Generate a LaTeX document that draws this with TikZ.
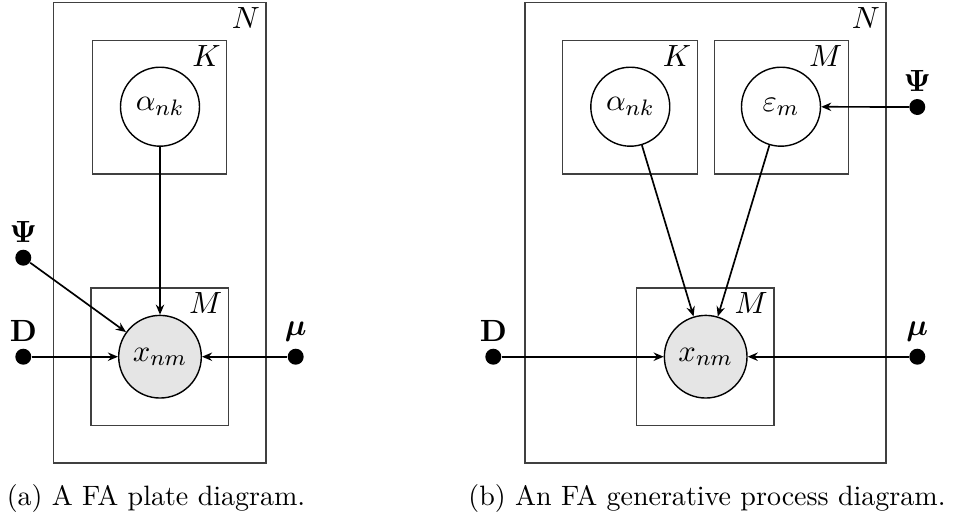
\documentclass[tikz,border=0pt]{standalone}
\usepackage{amsmath}
\usetikzlibrary{arrows.meta,positioning}
\newcommand{\lblsize}{\fontsize{10.95}{13.6}\selectfont}
\begin{document}
\begin{tikzpicture}[x=0.357pt,y=-0.357pt,
  plate/.style={draw=black!75, line width=0.45pt},
  platelabel/.style={anchor=north east, inner xsep=2.0pt, inner ysep=1.5pt, font=\lblsize},
  latent/.style={circle, draw, line width=0.5pt, minimum size=28.2pt, inner sep=0pt, font=\lblsize},
  obs/.style={latent, fill=black!10, minimum size=29.5pt},
  dotnode/.style={circle, fill=black, minimum size=5.7pt, inner sep=0pt},
  dotlabel/.style={font=\lblsize, inner sep=2.2pt},
  edge/.style={-{Stealth[length=3.6pt,width=3pt,inset=1.2pt]}, line width=0.6pt},
  caption/.style={anchor=base, inner sep=0pt}]
\useasboundingbox (0,0) rectangle (955,515);
% ---------- (a) ----------
\draw[plate] (53.3,2.3) rectangle (266,463);
\node[platelabel] (aN) at (266,2.3) {$N$};
\draw[plate] (92.7,40.3) rectangle (226.7,174);
\node[platelabel] (aK) at (226.7,40.3) {$K$};
\draw[plate] (91,288) rectangle (228.3,425.3);
\node[platelabel] (aM) at (228.3,288) {$M$};
\node[latent] (aalpha) at (160,106.7) {$\alpha_{nk}$};
\node[obs] (ax) at (160,356.7) {$x_{nm}$};
\node[dotnode] (aPsi) at (23.3,257.7) {};
\node[dotlabel, above=0pt of aPsi] (aPsiL) {$\boldsymbol{\Psi}$};
\node[dotnode] (aD) at (23.3,356.7) {};
\node[dotlabel, above=0pt of aD] (aDL) {$\mathbf{D}$};
\node[dotnode] (amu) at (295.7,356.7) {};
\node[dotlabel, above=0pt of amu] (amuL) {$\boldsymbol{\mu}$};
\draw[edge] (aalpha) -- (ax);
\draw[edge] (aPsi) -- (ax);
\draw[edge] (aD) -- (ax);
\draw[edge] (amu) -- (ax);
\node[caption] (capa) at (156,505) {(a) A FA plate diagram.};
% ---------- (b) ----------
\draw[plate] (525,2.3) rectangle (886,463);
\node[platelabel] (bN) at (886,2.3) {$N$};
\draw[plate] (562.7,40.3) rectangle (697.3,174);
\node[platelabel] (bK) at (697.3,40.3) {$K$};
\draw[plate] (714.3,40.3) rectangle (848.3,174);
\node[platelabel] (bM1) at (848.3,40.3) {$M$};
\draw[plate] (636.7,288) rectangle (774,425.3);
\node[platelabel] (bM2) at (774,288) {$M$};
\node[latent] (balpha) at (630.3,106.7) {$\alpha_{nk}$};
\node[latent] (beps) at (781,106.7) {$\varepsilon_{m}$};
\node[obs] (bx) at (705.7,356.7) {$x_{nm}$};
\node[dotnode] (bPsi) at (917.3,107) {};
\node[dotlabel, above=0pt of bPsi] (bPsiL) {$\boldsymbol{\Psi}$};
\node[dotnode] (bD) at (493.3,356.7) {};
\node[dotlabel, above=0pt of bD] (bDL) {$\mathbf{D}$};
\node[dotnode] (bmu) at (917.3,356.7) {};
\node[dotlabel, above=0pt of bmu] (bmuL) {$\boldsymbol{\mu}$};
\draw[edge] (balpha) -- (bx);
\draw[edge] (beps) -- (bx);
\draw[edge] (bPsi) -- (beps);
\draw[edge] (bD) -- (bx);
\draw[edge] (bmu) -- (bx);
\node[caption] (capb) at (707,505) {(b) An FA generative process diagram.};
\end{tikzpicture}
\end{document}
